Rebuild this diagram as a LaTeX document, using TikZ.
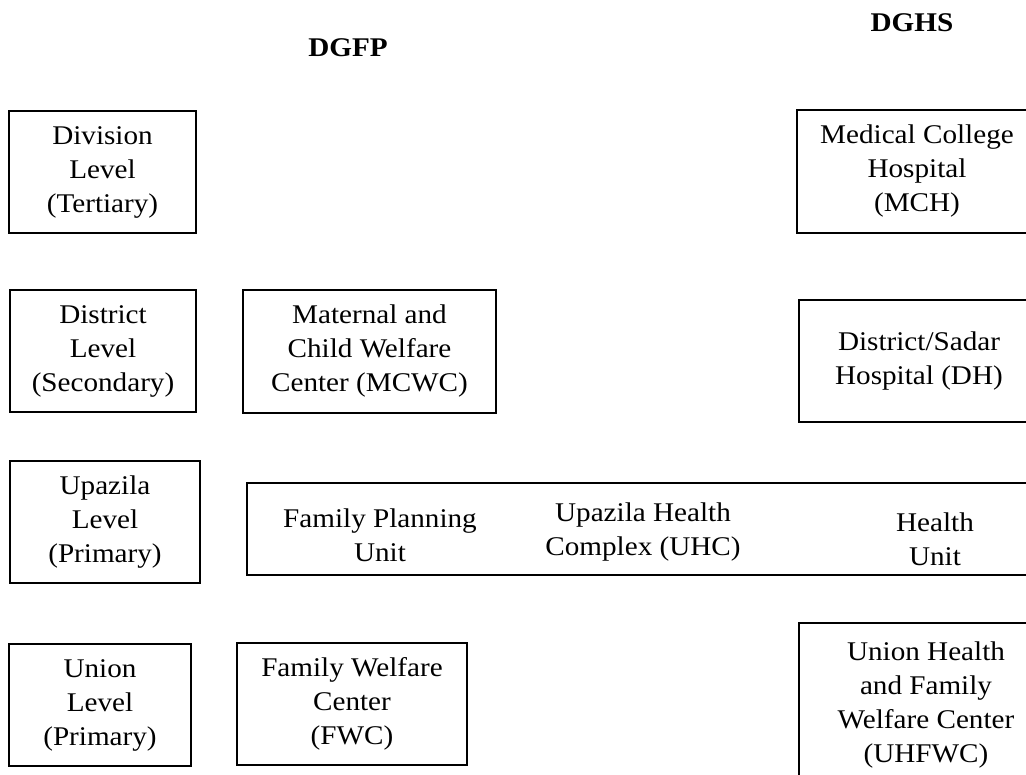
\documentclass[tikz,border=0pt]{standalone}
\usepackage{fontspec}
\setmainfont{Liberation Serif}[FakeStretch=1.08]
\begin{document}
\begin{tikzpicture}[x=1pt,y=-1pt,
  box/.style={draw,line width=1.6pt,align=center,inner sep=0pt,
    font=\fontsize{27}{34}\selectfont},
  lbl/.style={align=center,inner sep=0pt,font=\fontsize{27}{34}\selectfont},
  head/.style={inner sep=0pt,font=\fontsize{27}{34}\selectfont\bfseries}]
\clip (0,0) rectangle (1026,775);
\fill[white] (0,0) rectangle (1026,775);
% headers
\node[head] (dgfp) at (348,48) {DGFP};
\node[head] (dghs) at (912,23) {DGHS};
% level boxes
\node[box,minimum width=187pt,minimum height=122pt] (div) at (102.5,172) {Division\\Level\\(Tertiary)};
\node[box,minimum width=186pt,minimum height=122pt] (dist) at (103,351) {District\\Level\\(Secondary)};
\node[box,minimum width=190pt,minimum height=122pt] (upa) at (105,522) {Upazila\\Level\\(Primary)};
\node[box,minimum width=182pt,minimum height=122pt] (uni) at (100,705) {Union\\Level\\(Primary)};
% DGFP column
\node[box,minimum width=253pt,minimum height=123pt] (mcwc) at (369.5,351.5) {Maternal and\\Child Welfare\\Center (MCWC)};
\node[box,minimum width=230pt,minimum height=122pt] (fwc) at (352,704) {Family Welfare\\Center\\(FWC)};
% DGHS column
\node[box,minimum width=240pt,minimum height=123pt] (mch) at (917,171.5) {Medical College\\Hospital\\(MCH)};
\node[box,minimum width=240pt,minimum height=122pt] (dh) at (919,361) {District/Sadar\\Hospital (DH)};
\node[box,minimum width=254pt,minimum height=164pt] (uhfwc) at (926,705) {Union Health\\and Family\\Welfare Center\\(UHFWC)};
% Upazila wide box
\node[draw,line width=1.6pt,minimum width=793pt,minimum height=92pt,inner sep=0pt] (wide) at (643.5,529) {};
\node[lbl] (fpu) at (380,535) {Family Planning\\Unit};
\node[lbl] (uhc) at (643,532) {Upazila Health\\Complex (UHC)};
\node[lbl] (hu) at (935,539) {Health\\Unit};
\end{tikzpicture}
\end{document}
